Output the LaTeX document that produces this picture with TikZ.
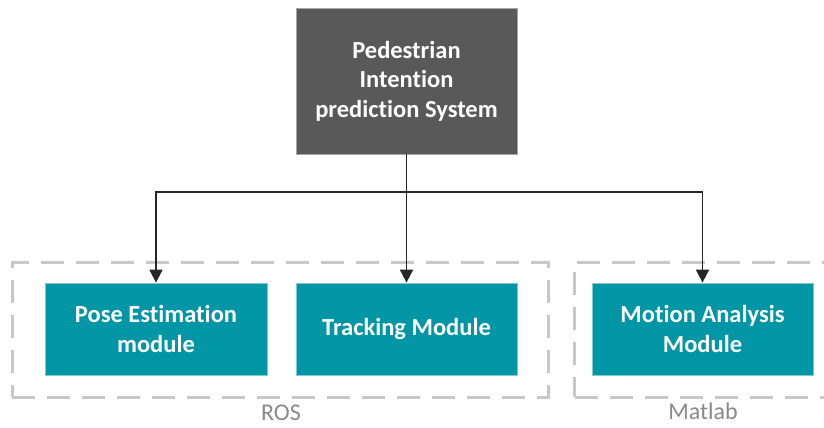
\documentclass[tikz,border=0pt]{standalone}
\usepackage{fontspec}
\setmainfont{Carlito}[Ligatures=NoCommon]
\usetikzlibrary{arrows.meta}
\definecolor{topgray}{HTML}{595959}
\definecolor{topedge}{HTML}{A6A6A6}
\definecolor{teal}{HTML}{0096A6}
\definecolor{tealedge}{HTML}{7FC9D1}
\definecolor{dashgray}{HTML}{C8C8C8}
\definecolor{labelgray}{HTML}{8A8A8A}
\definecolor{wire}{HTML}{262626}
\tikzset{
  sysbox/.style={draw=topedge, line width=0.8pt, fill=topgray, text=white,
    font=\fontsize{24.5}{29.5}\selectfont\bfseries, align=center,
    minimum width=221pt, minimum height=146pt, inner sep=0pt},
  modbox/.style={draw=tealedge, line width=0.8pt, fill=teal, text=white,
    font=\fontsize{24.5}{29.5}\selectfont\bfseries, align=center,
    minimum width=221pt, minimum height=92pt, inner sep=0pt},
  groupbox/.style={draw=dashgray, line width=3pt, dash pattern=on 23pt off 12pt,
    inner sep=0pt},
  grouplabel/.style={text=labelgray, font=\fontsize{24}{28}\selectfont, inner sep=0pt},
  wirearrow/.style={draw=wire, line width=1.8pt,
    -{Triangle[length=13pt, width=13pt]}},
}
\begin{document}
\begin{tikzpicture}[x=1pt, y=-1pt]
\clip (0,0) rectangle (824,428);
\fill[white] (0,0) rectangle (824,428);

% dashed frames of the two runtime environments
\node[groupbox, minimum width=536pt, minimum height=135pt] (ros) at (280,329.5) {};
\node[groupbox, minimum width=260pt, minimum height=135pt, anchor=west] (matlab) at (573,329.5) {};
\node[grouplabel] (roslabel) at (281,413) {ROS};
\node[grouplabel] (matlablabel) at (703,411) {Matlab};

% system and its modules
\node[sysbox] (sys) at (406.5,81) {Pedestrian\\Intention\\prediction System};
\node[modbox, minimum width=222pt] (pose) at (156,329) {Pose Estimation\\module};
\node[modbox] (track) at (406.5,329) {Tracking Module};
\node[modbox] (motion) at (702.5,329) {Motion Analysis\\Module};

% branching connectors
\coordinate (split) at (406.5,192);
\draw[wire, line width=1.8pt] (sys.south) -- (split);
\draw[wirearrow] (split) -| (pose.north);
\draw[wirearrow] (split) -- (track.north);
\draw[wirearrow] (split) -| (motion.north);
\end{tikzpicture}
\end{document}
